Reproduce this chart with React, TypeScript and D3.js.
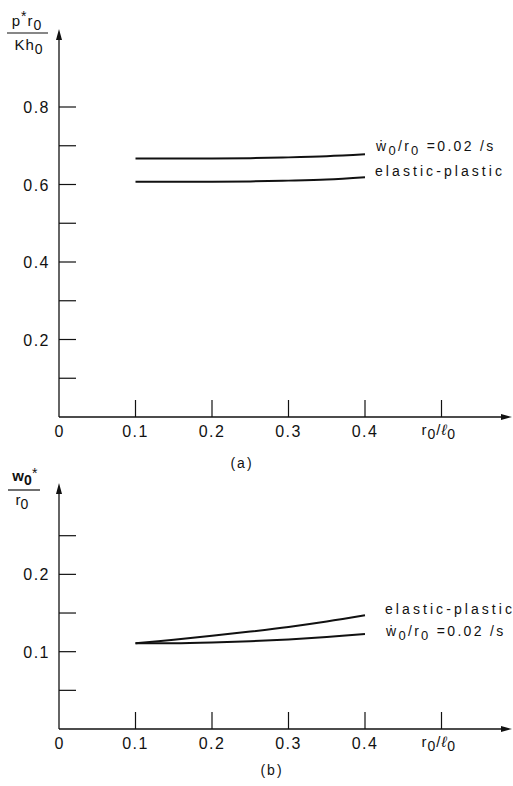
import React from "react";
import * as d3 from "d3";

// ---- data ----
const xsA = [0.1, 0.15, 0.2, 0.25, 0.3, 0.35, 0.4];
const rateA = [0.667, 0.667, 0.667, 0.668, 0.67, 0.673, 0.678];
const elasticA = [0.607, 0.607, 0.607, 0.608, 0.61, 0.613, 0.619];

const xsB = [0.1, 0.15, 0.2, 0.25, 0.3, 0.35, 0.4];
const elasticB = [0.111, 0.1155, 0.1205, 0.126, 0.132, 0.139, 0.147];
const rateB = [0.111, 0.111, 0.112, 0.1135, 0.1158, 0.119, 0.123];

const xTicks = [0.1, 0.2, 0.3, 0.4, 0.5];
const xTickLabels = ["0.1", "0.2", "0.3", "0.4"];
const yTicksA = [0.1, 0.2, 0.3, 0.4, 0.5, 0.6, 0.7, 0.8];
const yLabelsA = [0.2, 0.4, 0.6, 0.8];
const yTicksB = [0.05, 0.1, 0.15, 0.2, 0.25];
const yLabelsB = [0.1, 0.2];

const FONT = "'Liberation Sans', Arial, Helvetica, sans-serif";

const x = d3.scaleLinear().domain([0, 0.5]).range([59, 441.5]);
const yA = d3.scaleLinear().domain([0, 0.8]).range([417, 107]);
const yB = d3.scaleLinear().domain([0, 0.25]).range([729, 535.7]);

function Arrow({ x1, y1, dir }: { x1: number; y1: number; dir: "up" | "right" }) {
  const p =
    dir === "up"
      ? `M${x1},${y1} L${x1 - 3},${y1 + 11} L${x1 + 3},${y1 + 11} Z`
      : `M${x1},${y1} L${x1 - 11},${y1 - 3} L${x1 - 11},${y1 + 3} Z`;
  return <path d={p} fill="#111" />;
}

function Panel({
  y,
  yTicks,
  yLabels,
  series,
  topY,
  fmt,
}: {
  y: d3.ScaleLinear<number, number>;
  yTicks: number[];
  yLabels: number[];
  series: { xs: number[]; ys: number[] }[];
  topY: number;
  fmt: (v: number) => string;
}) {
  const y0 = y(0);
  const x0 = x(0);
  const line = d3
    .line<[number, number]>()
    .x((d) => x(d[0]))
    .y((d) => y(d[1]))
    .curve(d3.curveCatmullRom.alpha(0.5));
  return (
    <g>
      <line x1={x0} y1={y0} x2={x0} y2={topY + 6} stroke="#111" strokeWidth={1.3} />
      <Arrow x1={x0} y1={topY} dir="up" />
      <line x1={x0} y1={y0} x2={506} y2={y0} stroke="#111" strokeWidth={1.4} />
      <Arrow x1={512} y1={y0} dir="right" />
      {yTicks.map((t) => (
        <line key={t} x1={x0} x2={x0 + 17} y1={y(t)} y2={y(t)} stroke="#111" strokeWidth={1.2} />
      ))}
      {xTicks.map((t) => (
        <line key={t} x1={x(t)} x2={x(t)} y1={y0} y2={y0 - 17} stroke="#111" strokeWidth={1.2} />
      ))}
      {yLabels.map((t) => (
        <text
          key={t}
          x={50}
          y={y(t) + 6}
          textAnchor="end"
          fontSize={16}
          fontFamily={FONT}
          letterSpacing={1.5}
          fill="#111"
        >
          {fmt(t)}
        </text>
      ))}
      <text x={x0} y={y0 + 20} textAnchor="middle" fontSize={16} fontFamily={FONT} fill="#111">
        0
      </text>
      {xTickLabels.map((l, i) => (
        <text
          key={l}
          x={x(xTicks[i])}
          y={y0 + 20}
          textAnchor="middle"
          fontSize={16}
          fontFamily={FONT}
          letterSpacing={1.5}
          fill="#111"
        >
          {l}
        </text>
      ))}
      <text x={x(0.5) - 20} y={y0 + 18} fontSize={15} fontFamily={FONT} fill="#111" letterSpacing={1}>
        r<tspan dy={4} fontSize={14}>0</tspan>
        <tspan dy={-4}>/</tspan>
        <tspan fontStyle="italic">ℓ</tspan>
        <tspan dy={4} fontSize={14}>0</tspan>
      </text>
      {series.map((s, i) => (
        <path
          key={i}
          d={line(s.xs.map((v, j) => [v, s.ys[j]] as [number, number])) || ""}
          fill="none"
          stroke="#111"
          strokeWidth={2}
        />
      ))}
    </g>
  );
}

function RateLabel({ x0, y0 }: { x0: number; y0: number }) {
  return (
    <text x={x0} y={y0} fontSize={14} fontFamily={FONT} fill="#111" letterSpacing={2.3}>
      ẇ<tspan dy={4} fontSize={13}>0</tspan>
      <tspan dy={-4}>/r</tspan>
      <tspan dy={4} fontSize={13}>0</tspan>
      <tspan dy={-4}> =0.02 /s</tspan>
    </text>
  );
}

function ElasticLabel({ x0, y0 }: { x0: number; y0: number }) {
  return (
    <text
      x={x0}
      y={y0}
      fontSize={14}
      fontFamily={FONT}
      fill="#111"
      textLength={127}
      lengthAdjust="spacing"
    >
      elastic-plastic
    </text>
  );
}

export default function App() {
  return (
    <svg
      width={513}
      height={786}
      style={{ position: "absolute", left: 0, top: 0, background: "#fff" }}
    >
      {/* Panel (a) */}
      <text x={27} y={26} textAnchor="middle" fontSize={15} fontFamily={FONT} fill="#111" letterSpacing={1}>
        p<tspan dy={-5} fontSize={14}>*</tspan>
        <tspan dy={5}>r</tspan>
        <tspan dy={4} fontSize={14}>0</tspan>
      </text>
      <line x1={7} x2={48} y1={33} y2={33} stroke="#111" strokeWidth={1.2} />
      <text x={29} y={50} textAnchor="middle" fontSize={15} fontFamily={FONT} fill="#111" letterSpacing={1}>
        Kh<tspan dy={4} fontSize={14}>0</tspan>
      </text>
      <Panel
        y={yA}
        yTicks={yTicksA}
        yLabels={yLabelsA}
        topY={29}
        fmt={(v) => d3.format(".1f")(v)}
        series={[
          { xs: xsA, ys: rateA },
          { xs: xsA, ys: elasticA },
        ]}
      />
      <RateLabel x0={376} y0={151} />
      <ElasticLabel x0={375} y0={176} />
      <text x={242} y={468} textAnchor="middle" fontSize={14} fontFamily={FONT} fill="#111" letterSpacing={2}>
        (a)
      </text>

      {/* Panel (b) */}
      <text x={22} y={481} textAnchor="middle" fontSize={15} fontFamily={FONT} fontWeight="bold" fill="#111">
        w<tspan dy={4} fontSize={14}>0</tspan>
      </text>
      <text x={32} y={478} fontSize={14} fontFamily={FONT} fill="#111">*</text>
      <line x1={8} x2={40} y1={490} y2={490} stroke="#111" strokeWidth={1.2} />
      <text x={22} y={505} textAnchor="middle" fontSize={15} fontFamily={FONT} fill="#111">
        r<tspan dy={4} fontSize={14}>0</tspan>
      </text>
      <Panel
        y={yB}
        yTicks={yTicksB}
        yLabels={yLabelsB}
        topY={483}
        fmt={(v) => d3.format(".1f")(v)}
        series={[
          { xs: xsB, ys: elasticB },
          { xs: xsB, ys: rateB },
        ]}
      />
      <ElasticLabel x0={385} y0={614} />
      <RateLabel x0={386} y0={636} />
      <text x={272} y={775} textAnchor="middle" fontSize={14} fontFamily={FONT} fill="#111" letterSpacing={2}>
        (b)
      </text>
    </svg>
  );
}
